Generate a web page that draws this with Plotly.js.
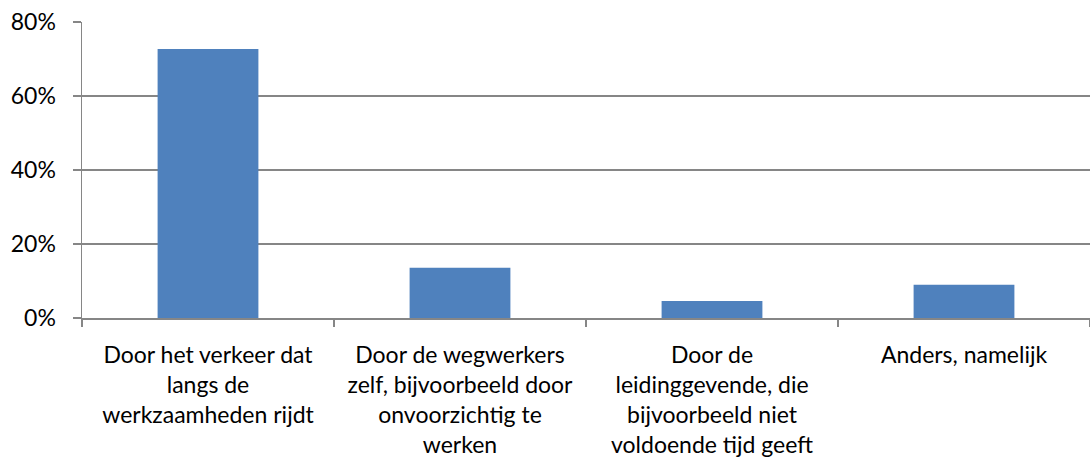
<!DOCTYPE html>
<html><head><meta charset="utf-8">
<script src="https://cdn.plot.ly/plotly-3.0.1.min.js"></script>
<style>html,body{margin:0;padding:0;background:#fff}#chart{width:1090px;height:464px}</style>
</head><body><div id="chart"></div>
<script>
const categories = [
  "Door het verkeer dat<br>langs de<br>werkzaamheden rijdt",
  "Door de wegwerkers<br>zelf, bijvoorbeeld door<br>onvoorzichtig te<br>werken",
  "Door de<br>leidinggevende, die<br>bijvoorbeeld niet<br>voldoende tijd geeft",
  "Anders, namelijk"
];
const values = [72.7, 13.6, 4.6, 9.0];
const yTickVals = [0, 20, 40, 60, 80];
const yTickText = ["0%", "20%", "40%", "60%", "80%"];

const gray = "#868686";
Plotly.newPlot("chart", [{
  type: "bar",
  x: categories,
  y: values,
  marker: {color: "#4F81BD", line: {width: 0}},
  width: 0.4,
  hoverinfo: "skip"
}], {
  width: 1090, height: 464,
  margin: {l: 82, r: 0, t: 22, b: 146},
  paper_bgcolor: "#fff", plot_bgcolor: "#fff",
  font: {family: "Lato, 'Open Sans', sans-serif", size: 22, color: "#000"},
  showlegend: false,
  bargap: 0.6,
  xaxis: {
    type: "category",
    showline: true, linecolor: gray, linewidth: 1.5,
    ticks: "outside", ticklen: 7, tickcolor: gray, tickwidth: 1.5,
    tickson: "boundaries",
    showgrid: false, zeroline: false,
    tickangle: 0, automargin: false,
    ticklabelstandoff: 16,
    tickfont: {size: 23}
  },
  yaxis: {
    range: [0, 80],
    tickvals: yTickVals, ticktext: yTickText,
    showline: true, linecolor: gray, linewidth: 1.5,
    ticks: "outside", ticklen: 8, tickcolor: gray, tickwidth: 1.5,
    showgrid: true, gridcolor: gray, gridwidth: 1.5,
    zeroline: false, automargin: false,
    ticklabelstandoff: 12,
    tickfont: {size: 23}
  }
}, {displayModeBar: false, staticPlot: true});
</script></body></html>
